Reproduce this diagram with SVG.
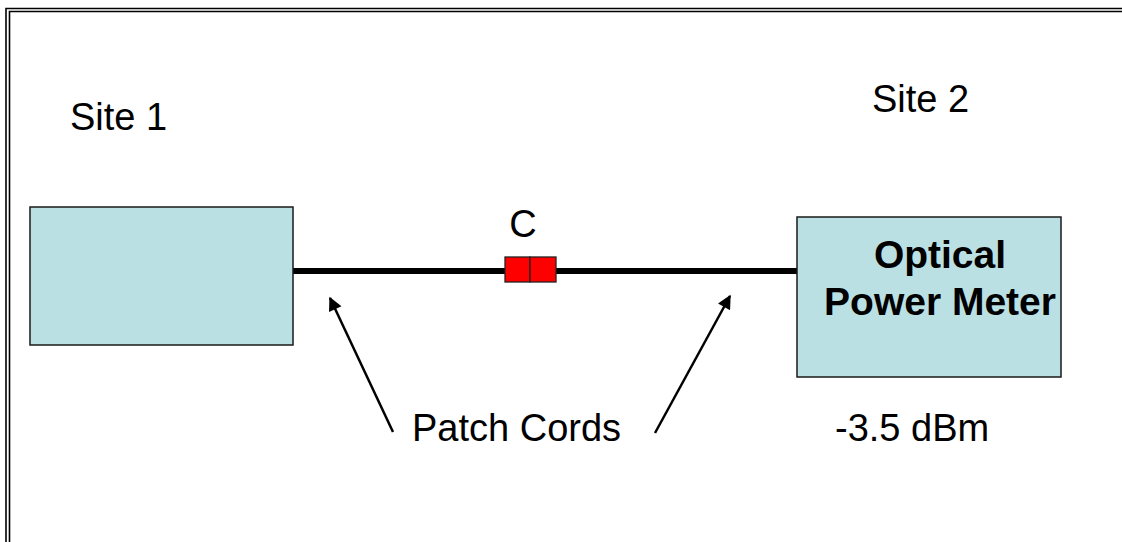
<svg xmlns="http://www.w3.org/2000/svg" width="1122" height="542" viewBox="0 0 1122 542">
<defs>
<style>
.t{font-family:"Liberation Sans",Arial,sans-serif;font-size:38px;fill:#000}
.b{font-weight:bold;font-size:39px}
.box{fill:#BBE0E3;stroke:#1a1a1a;stroke-width:1.5}
.frame{fill:none;stroke:#000;stroke-width:1.6}
.arr{stroke:#000;stroke-width:2.5;fill:none}
.cord{stroke:#000;stroke-width:6;fill:none}
.conn{fill:#FF0000;stroke:#222;stroke-width:1.3}
</style>
<marker id="ah" viewBox="0 0 10 10" refX="9" refY="5" markerWidth="6" markerHeight="5.5" orient="auto" markerUnits="strokeWidth">
<path d="M0,0 L10,5 L0,10 z" fill="#000"/>
</marker>
</defs>
<rect width="1122" height="542" fill="#fff"/>
<g id="frame">
<path class="frame" d="M6,542 V8.5 H1122"/>
<path class="frame" d="M9.5,542 V11.5 H1122"/>
</g>
<g id="connectors">
<line class="cord" x1="293" y1="271" x2="797" y2="271"/>
<line class="arr" x1="393" y1="432" x2="330" y2="298" marker-end="url(#ah)"/>
<line class="arr" x1="655" y1="433" x2="730" y2="296" marker-end="url(#ah)"/>
</g>
<g id="site1-box">
<rect class="box" x="30" y="207" width="263" height="138"/>
</g>
<g id="power-meter">
<rect class="box" x="797" y="217" width="264" height="160"/>
<text class="t b" x="940" y="268" text-anchor="middle">Optical</text>
<text class="t b" x="940" y="315" text-anchor="middle">Power Meter</text>
</g>
<g id="connector-c">
<rect class="conn" x="505" y="257" width="25" height="25"/>
<rect class="conn" x="530" y="257" width="26" height="25"/>
<text class="t" x="523" y="237" text-anchor="middle">C</text>
</g>
<g id="labels">
<text class="t" x="70" y="130">Site 1</text>
<text class="t" x="872" y="112">Site 2</text>
<text class="t" x="412" y="441">Patch Cords</text>
<text class="t" x="835" y="441">-3.5 dBm</text>
</g>
</svg>
